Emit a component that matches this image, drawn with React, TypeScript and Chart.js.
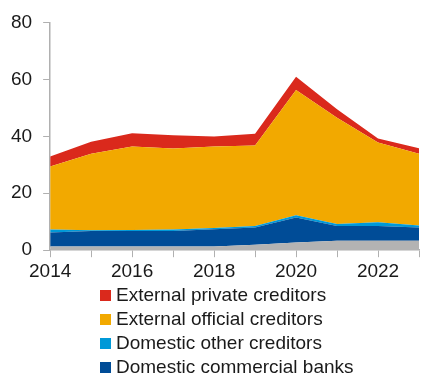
import React, { useEffect, useRef } from "react";
import { Chart, registerables } from "chart.js";

Chart.register(...registerables);

const years = ["2014", "2015", "2016", "2017", "2018", "2019", "2020", "2021", "2022", "2023"];
const otherBase = [1.3, 1.3, 1.3, 1.3, 1.3, 1.9, 2.7, 3.3, 3.3, 3.3];
const domesticBanks = [4.9, 5.4, 5.4, 5.4, 6.1, 6.1, 8.8, 5.2, 5.2, 4.7];
const domesticOther = [1.1, 0.3, 0.4, 0.6, 0.4, 0.5, 0.8, 0.7, 1.3, 0.7];
const externalOfficial = [22.1, 26.9, 29.3, 28.4, 28.6, 28.3, 44.0, 37.3, 28.0, 25.2];
const externalPrivate = [3.5, 4.2, 4.7, 4.7, 3.5, 4.1, 4.6, 3.0, 1.4, 1.9];
const yTicks = [0, 20, 40, 60, 80];

const legendItems = [
  { label: "External private creditors", color: "#DA291C" },
  { label: "External official creditors", color: "#F2A900" },
  { label: "Domestic other creditors", color: "#0099D8" },
  { label: "Domestic commercial banks", color: "#004C97" },
];

export default function App() {
  const ref = useRef<HTMLCanvasElement>(null);
  useEffect(() => {
    if (!ref.current) return;
    const font = { family: "Liberation Sans, Arial, sans-serif", size: 19 };
    const mk = (label: string, data: number[], color: string, fill: any) => ({
      label,
      data,
      backgroundColor: color,
      borderColor: color,
      borderWidth: 0,
      pointRadius: 0,
      fill,
      tension: 0,
    });
    const chart = new Chart(ref.current, {
      type: "line",
      data: {
        labels: years,
        datasets: [
          mk("Other", otherBase, "#B3B3B3", "origin"),
          mk("Domestic commercial banks", domesticBanks, "#004C97", "-1"),
          mk("Domestic other creditors", domesticOther, "#0099D8", "-1"),
          mk("External official creditors", externalOfficial, "#F2A900", "-1"),
          mk("External private creditors", externalPrivate, "#DA291C", "-1"),
        ],
      },
      options: {
        animation: false,
        responsive: false,
        layout: { padding: { left: 0, top: 15, right: 1, bottom: 0 } },
        plugins: { legend: { display: false }, tooltip: { enabled: false } },
        scales: {
          x: {
            type: "category",
            offset: false,
            grid: { drawOnChartArea: false, color: "#B0B0B0", tickLength: 7 },
            border: { color: "#B0B0B0", width: 1.5 },
            ticks: {
              autoSkip: false,
              maxRotation: 0,
              color: "#1a1a1a",
              font,
              padding: 3,
              callback: (_v: any, i: number) => (i % 2 === 0 ? years[i] : ""),
            },
          },
          y: {
            stacked: true,
            min: yTicks[0],
            max: yTicks[yTicks.length - 1],
            grid: { drawOnChartArea: false, color: "#B0B0B0", tickLength: 7 },
            border: { color: "#B0B0B0", width: 1.5 },
            ticks: { stepSize: 20, color: "#1a1a1a", font, padding: 11 },
          },
        },
      },
    });
    return () => chart.destroy();
  }, []);

  return (
    <div style={{ position: "fixed", left: 0, top: 0, width: 422, height: 375, background: "#fff", overflow: "hidden" }}>
      <canvas ref={ref} width={422} height={286} style={{ display: "block" }} />
      <div style={{ position: "absolute", left: 100, top: 283, fontFamily: "Liberation Sans, Arial, sans-serif", fontSize: 19, color: "#1a1a1a" }}>
        {legendItems.map((it) => (
          <div key={it.label} style={{ display: "flex", alignItems: "center", height: 24 }}>
            <span style={{ display: "inline-block", width: 11, height: 11, background: it.color, marginRight: 5 }} />
            <span>{it.label}</span>
          </div>
        ))}
      </div>
    </div>
  );
}
